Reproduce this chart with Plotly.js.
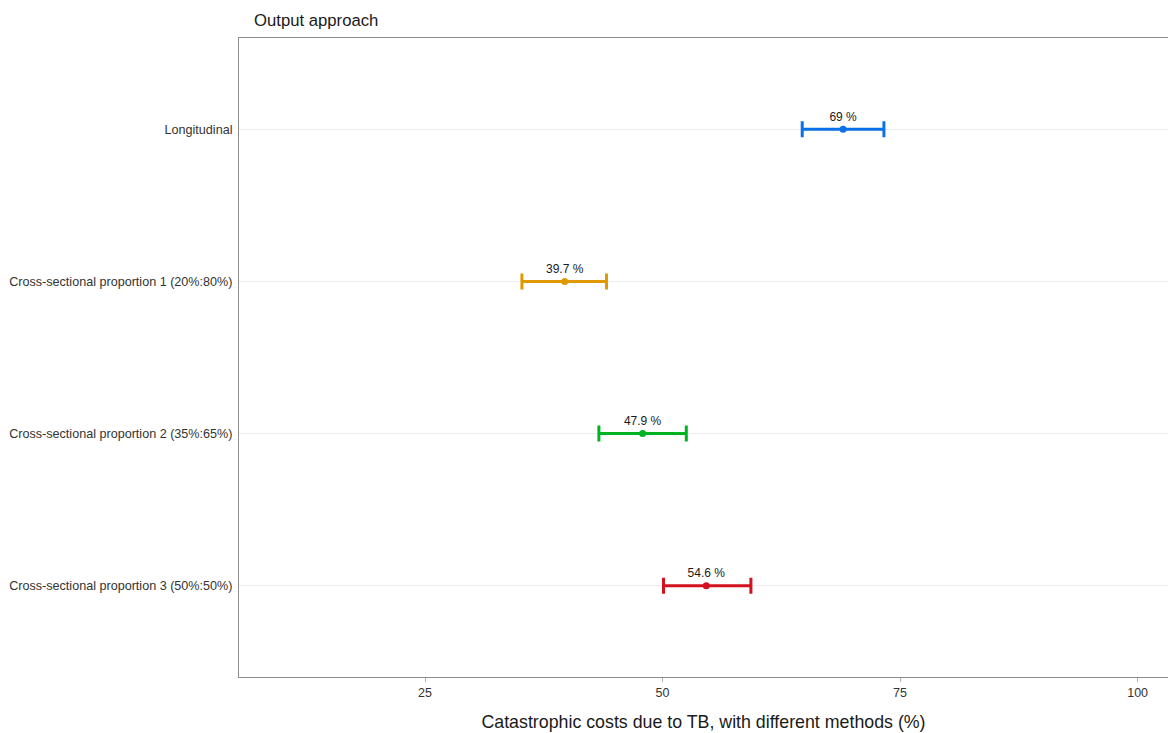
<!DOCTYPE html>
<html>
<head>
<meta charset="utf-8">
<script src="https://cdn.plot.ly/plotly-3.0.1.min.js"></script>
<style>html,body{margin:0;padding:0;background:#fff;}#chart{width:1168px;height:733px;}</style>
</head>
<body>
<div id="chart"></div>
<script>
// Data
const categories = ["Longitudinal", "Cross-sectional proportion 1 (20%:80%)", "Cross-sectional proportion 2 (35%:65%)", "Cross-sectional proportion 3 (50%:50%)"];
const estimates = [69, 39.7, 47.9, 54.6];
const lowerCI = [64.7, 35.2, 43.3, 50.1];
const upperCI = [73.3, 44.1, 52.5, 59.3];
const xTicks = [25, 50, 75, 100];

// Styles
const colors = ["#0A72E6", "#E09A00", "#00B322", "#D3121F"];

const traces = categories.map((c, i) => ({
  type: "scatter",
  mode: "markers+text",
  x: [estimates[i]],
  y: [c],
  text: [estimates[i] + " %"],
  textposition: "top center",
  textfont: {family: "Arial, Liberation Sans, sans-serif", size: 12, color: "#1a1a1a"},
  marker: {color: colors[i], size: 7},
  error_x: {
    type: "data",
    symmetric: false,
    array: [upperCI[i] - estimates[i]],
    arrayminus: [estimates[i] - lowerCI[i]],
    color: colors[i],
    thickness: 3,
    width: 8
  },
  cliponaxis: false,
  showlegend: false,
  hoverinfo: "x+y"
}));

const layout = {
  width: 1168,
  height: 733,
  margin: {l: 239, r: 0, t: 38, b: 56},
  paper_bgcolor: "#ffffff",
  plot_bgcolor: "#ffffff",
  font: {family: "Arial, Liberation Sans, sans-serif", color: "#333333"},
  title: {
    text: "Output approach",
    x: 254 / 1168, xanchor: "left",
    y: 1 - 20 / 733, yanchor: "middle",
    font: {size: 16.7, color: "#1a1a1a"}
  },
  xaxis: {
    range: [5.42, 103.2],
    tickvals: xTicks,
    ticktext: xTicks.map(String),
    showgrid: false,
    zeroline: false,
    showline: true,
    linecolor: "#8c8c8c",
    linewidth: 1,
    mirror: true,
    ticks: "outside",
    ticklen: 4,
    tickcolor: "#b0b0b0",
    tickfont: {size: 12.5, color: "#333333"},
    title: {text: "Catastrophic costs due to TB, with different methods (%)", font: {size: 17.8, color: "#1a1a1a"}, standoff: 16}
  },
  yaxis: {
    type: "category",
    categoryorder: "array",
    categoryarray: categories,
    range: [3.6, -0.6],
    showgrid: true,
    gridcolor: "#ebebeb",
    gridwidth: 1,
    zeroline: false,
    showline: true,
    linecolor: "#8c8c8c",
    linewidth: 1,
    ticks: "",
    ticklabelstandoff: 3,
    tickfont: {size: 12.6, color: "#333333"}
  }
};

Plotly.newPlot("chart", traces, layout, {displayModeBar: false, staticPlot: true});
</script>
</body>
</html>
